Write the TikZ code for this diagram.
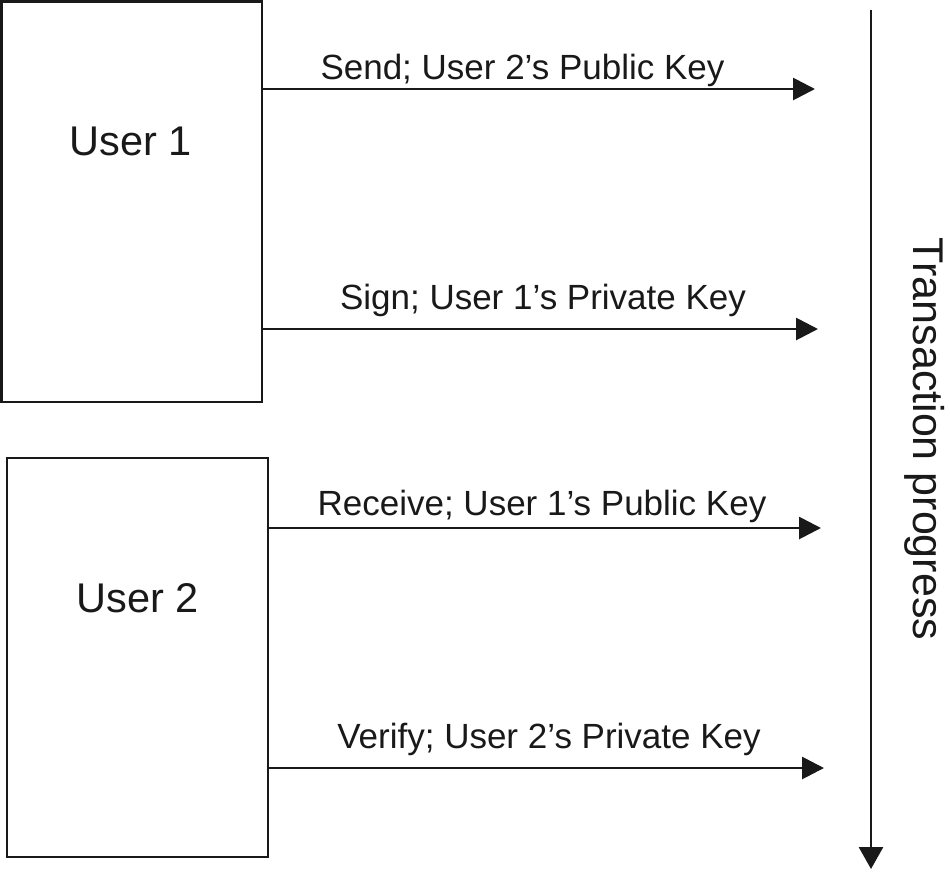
\documentclass[tikz,border=0pt]{standalone}
\usepackage{fontspec}
\setmainfont{Liberation Sans}
\usetikzlibrary{arrows.meta}
\begin{document}
\begin{tikzpicture}[x=1pt,y=-1pt,
  box/.style={draw=black!90,line width=2.8pt,inner sep=0pt,outer sep=0pt,rectangle},
  arr/.style={draw=black!90,line width=2.8pt,-{Triangle[length=22pt,width=22pt]}},
  lbl/.style={anchor=base,inner sep=0pt,font=\fontsize{35}{42}\selectfont,text=black!90},
  usr/.style={anchor=base,inner sep=0pt,font=\fontsize{41.5}{48}\selectfont,text=black!90}]
\useasboundingbox (0,0) rectangle (950,871);
% boxes
\node[box,minimum width=260.5pt,minimum height=400.5pt] (u1) at (131.75,201.75) {};
\node[box,minimum width=261pt,minimum height=399pt] (u2) at (137.5,657.5) {};
\node[usr] (t1) at (131,155) {User 1};
\node[usr] (t2) at (137.5,612) {User 2};
% arrow end points
\coordinate (e1) at (815,89);
\coordinate (e2) at (818,329);
\coordinate (e3) at (821,528);
\coordinate (e4) at (824,768);
\draw[arr] (u1.east |- e1) -- (e1);
\draw[arr] (u1.east |- e2) -- (e2);
\draw[arr] (u2.east |- e3) -- (e3);
\draw[arr] (u2.east |- e4) -- (e4);
% labels
\node[lbl] (l1) at (522.5,79) {Send; User 2’s Public Key};
\node[lbl] (l2) at (543,309) {Sign; User 1’s Private Key};
\node[lbl] (l3) at (542,515) {Receive; User 1’s Public Key};
\node[lbl] (l4) at (549,748) {Verify; User 2’s Private Key};
% progress arrow
\coordinate (p0) at (871,10);
\coordinate (p1) at (871,869);
\draw[draw=black!90,line width=2.8pt,-{Triangle[length=22pt,width=24pt]}] (p0) -- (p1);
\node[anchor=base,rotate=-90,inner sep=0pt,font=\fontsize{43}{50}\selectfont,text=black!90] (tp) at (913,439) {Transaction progress};
\end{tikzpicture}
\end{document}
